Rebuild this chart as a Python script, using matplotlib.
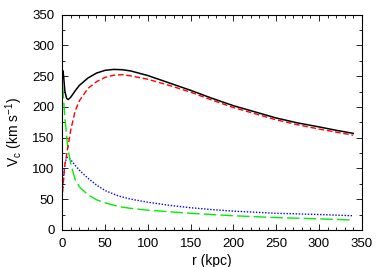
import matplotlib
matplotlib.use("Agg")
import matplotlib.pyplot as plt
from matplotlib.ticker import MultipleLocator

# Total rotation curve
r_tot = [0.2, 0.6, 1.5, 3, 5, 7, 10, 15, 20, 30, 40, 50, 60, 70, 80, 100, 125,
         150, 175, 200, 225, 250, 275, 300, 320, 340]
v_tot = [247, 259, 251, 226, 214, 212, 216, 226, 235, 247, 255, 259.5, 261, 260.5,
         258.5, 251, 239, 227, 214, 202, 192, 182, 174, 167.5, 162, 157]

# Halo
r_halo = [0.3, 1, 2, 3, 5, 6, 7, 10, 15, 20, 30, 40, 50, 60, 70, 80, 100, 125,
          150, 175, 200, 225, 250, 275, 300, 320, 340]
v_halo = [62, 72, 90, 105, 121, 130, 138, 163, 193, 210, 230, 241, 248, 251.5, 252.5,
          250.5, 245, 235, 224, 211, 199, 189, 179, 171, 164, 159, 154]

# Bulge
r_bulge = [0.3, 1, 2, 3, 5, 6, 7, 10, 15, 20, 30, 40, 50, 66, 80, 100, 125, 150,
           175, 200, 250, 300, 340]
v_bulge = [234, 225, 203, 183, 155, 139, 129, 107, 82, 70, 57, 49, 44, 38, 35,
           32, 29.5, 27, 25, 23, 20, 18, 16]

# Disk
r_disk = [0.3, 1, 2, 3, 5, 6, 7, 10, 15, 20, 30, 40, 50, 66, 80, 100, 125, 150,
          175, 200, 250, 300, 340]
v_disk = [63, 75, 95, 107, 117, 118, 117.5, 114, 105, 97, 84, 73, 64, 55, 50, 45,
          40, 36, 33, 30.5, 27, 25, 23]

plt.rcParams['font.family'] = ['Liberation Sans', 'DejaVu Sans']
plt.rcParams['font.size'] = 9.5

fig = plt.figure(figsize=(3.82, 2.67), dpi=100)
ax = fig.add_axes([0.163, 0.139, 0.784, 0.806])

ax.plot(r_disk, v_disk, color='#0000ff', lw=1.0, linestyle=(0, (1, 1.2)))
ax.plot(r_bulge, v_bulge, color='#00ee00', lw=1.0, linestyle=(0, (9, 3)))
ax.plot(r_halo, v_halo, color='#ff0000', lw=1.0, linestyle=(0, (4, 2)))
ax.plot(r_tot, v_tot, color='black', lw=1.1)

ax.set_xlim(0, 350)
ax.set_ylim(0, 350)
ax.xaxis.set_major_locator(MultipleLocator(50))
ax.xaxis.set_minor_locator(MultipleLocator(10))
ax.yaxis.set_major_locator(MultipleLocator(50))
ax.yaxis.set_minor_locator(MultipleLocator(25))
ax.tick_params(which='both', direction='in', top=True, right=True, width=0.6)
ax.tick_params(which='major', length=4)
ax.tick_params(which='minor', length=2)
ax.tick_params(axis='x', which='major', pad=5.5)
ax.tick_params(axis='y', which='major', pad=5.5)
for s in ax.spines.values():
    s.set_linewidth(0.8)

ax.set_xlabel('r (kpc)', fontsize=10)
ax.xaxis.set_label_coords(0.5, -0.112)
ax.set_ylabel('V$_\\mathregular{c}$ (km s$^\\mathregular{-1}$)', fontsize=10)
ax.yaxis.set_label_coords(-0.125, 0.455)

fig.savefig('out.png', dpi=100)
